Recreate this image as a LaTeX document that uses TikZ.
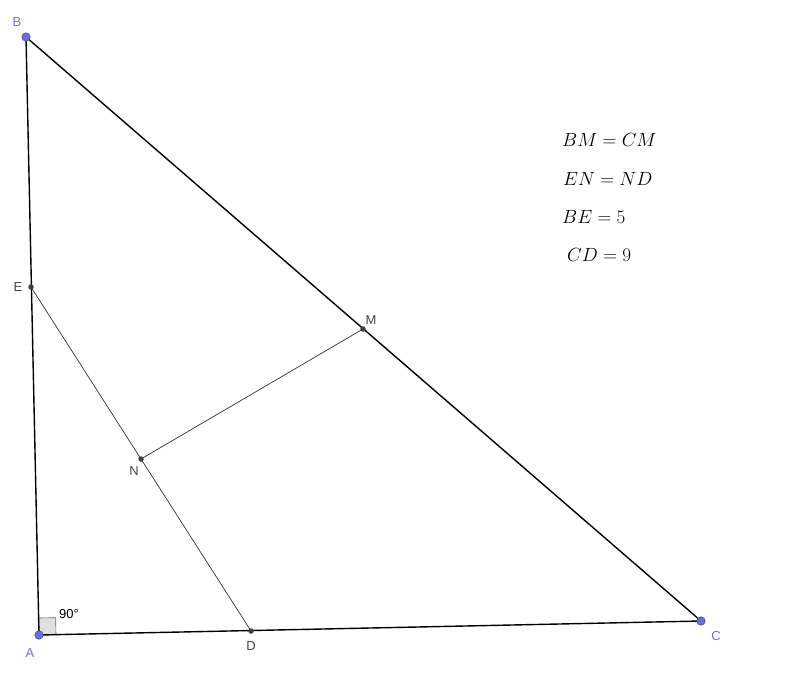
\documentclass[tikz,border=0pt]{standalone}
\usepackage{fontspec}
\setsansfont{Liberation Sans}
\usetikzlibrary{calc}
\definecolor{ptblue}{HTML}{6B6BE6}
\definecolor{lblblue}{HTML}{7070E0}
\definecolor{lblgray}{HTML}{444444}
\newcommand{\eqtxt}[1]{\scalebox{0.92}{$#1$}}
\tikzset{
  side/.style={line width=1.4pt, black},
  seg/.style={line width=0.7pt, black!80},
  bigpt/.style={circle, fill=ptblue, draw=black!70, line width=0.5pt, inner sep=0pt, minimum size=8.5pt},
  smallpt/.style={circle, fill=black!75, inner sep=0pt, minimum size=5.5pt},
  blbl/.style={font=\sffamily\fontsize{13}{15}\selectfont, text=lblblue},
  glbl/.style={font=\sffamily\fontsize{13}{15}\selectfont, text=lblgray},
  eqn/.style={font=\fontsize{20.74}{24}\selectfont, anchor=west, inner sep=0pt},
}
\begin{document}
\begin{tikzpicture}[x=1pt, y=-1pt]
\useasboundingbox (0,0) rectangle (800,678);
\fill[white] (0,0) rectangle (800,678);
\coordinate (B) at (26,37);
\coordinate (A) at (39,635);
\coordinate (C) at (701,621);
\coordinate (E) at (31,287);
\coordinate (D) at (251,631);
\coordinate (M) at (363,329);
\coordinate (N) at (141,459);
% right angle mark
\coordinate (Ra) at ($(A)!17pt!(C)$);
\coordinate (Rb) at ($(A)!17pt!(B)$);
\filldraw[fill=black!12, draw=black!60, line width=0.6pt] (A) -- (Ra) -- ($(Ra)+(Rb)-(A)$) -- (Rb) -- cycle;
% segments
\draw[seg] (E) -- (D);
\draw[seg] (N) -- (M);
\draw[side] (A) -- (B) -- (C) -- cycle;
% points
\node[bigpt] (pB) at (B) {};
\node[bigpt] (pA) at (A) {};
\node[bigpt] (pC) at (C) {};
\node[smallpt] (pE) at (E) {};
\node[smallpt] (pD) at (D) {};
\node[smallpt] (pM) at (M) {};
\node[smallpt] (pN) at (N) {};
% labels
\node[blbl] (lB) at (17,22) {B};
\node[blbl] (lA) at (30,653) {A};
\node[blbl] (lC) at (716,636) {C};
\node[glbl] (lE) at (18,287) {E};
\node[glbl] (lD) at (251,646) {D};
\node[glbl] (lM) at (371,320) {M};
\node[glbl] (lN) at (134,471) {N};
\node[font=\sffamily\fontsize{13}{15}\selectfont, text=black] (ang) at (69,614) {90°};
% equations
\node[eqn] (q1) at (562,140) {\eqtxt{BM=CM}};
\node[eqn] (q2) at (563,179) {\eqtxt{EN=ND}};
\node[eqn] (q3) at (562,217) {\eqtxt{BE=5}};
\node[eqn] (q4) at (567,255) {\eqtxt{CD=9}};
\end{tikzpicture}
\end{document}
